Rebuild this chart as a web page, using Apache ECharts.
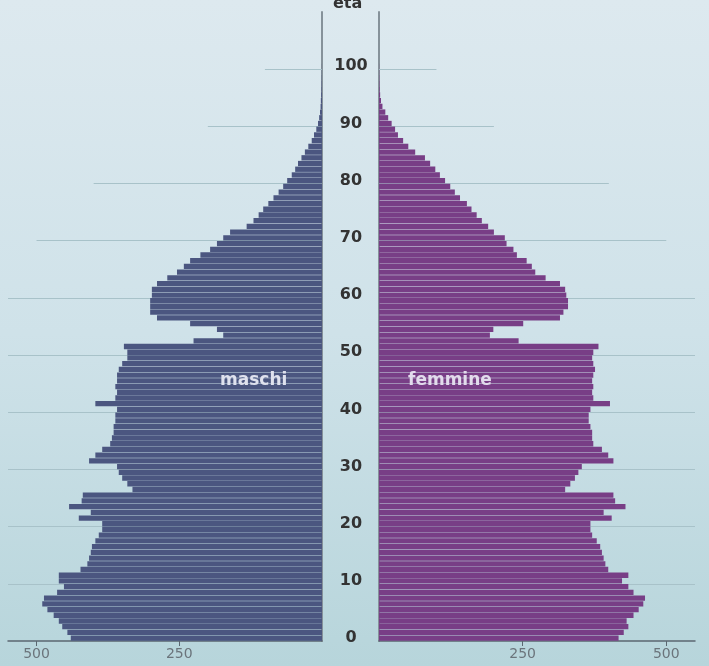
<!DOCTYPE html>
<html><head><meta charset="utf-8">
<script src="https://cdn.jsdelivr.net/npm/echarts@6/dist/echarts.min.js"></script>
<style>html,body{margin:0;padding:0;background:#fff}#c{width:709px;height:666px;}</style>
</head><body><div id="c"></div>
<script>
// Age categories (single years)
const ages = ['0','1','2','3','4','5','6','7','8','9','10','11','12','13','14','15','16','17','18','19',
'20','21','22','23','24','25','26','27','28','29','30','31','32','33','34','35','36','37','38','39',
'40','41','42','43','44','45','46','47','48','49','50','51','52','53','54','55','56','57','58','59',
'60','61','62','63','64','65','66','67','68','69','70','71','72','73','74','75','76','77','78','79',
'80','81','82','83','84','85','86','87','88','89','90','91','92','93','94','95','96','97','98','99',
'100','101','102','103','104','105','106','107','108','109'];

// maschi (males), ages 0..100
const maschi = [440,446,455,461,470,481,490,487,464,452,
461,461,423,411,408,405,403,397,391,385,
385,426,405,443,421,419,332,341,350,356,
359,408,397,385,371,368,365,365,362,362,
359,397,362,359,362,359,359,356,350,341,
341,347,225,173,184,231,289,301,301,301,
298,298,289,271,254,242,231,213,196,184,
173,161,132,120,111,103,94,85,76,68,
61,53,47,42,36,30,24,18,14,10,
7,5,3.5,2.5,2,1.5,1,0.7,0.5,0.3,0.2];

// femmine (females), ages 0..100
const femmine = [417,426,434,431,443,452,460,463,443,434,
423,434,399,394,391,388,385,379,371,368,
368,405,391,429,411,408,324,333,341,347,
353,408,399,388,373,371,371,368,365,365,
368,402,373,371,373,371,373,376,373,371,
373,382,243,193,199,251,315,321,329,329,
326,324,315,290,272,266,257,240,234,222,
219,200,190,179,170,161,153,141,132,124,
115,106,98,89,80,63,51,42,33,28,
22,16,11,6,3.5,2,1.2,0.8,0.5,0.3,0.2];

// age tick labels and guide lines
const ageTickLabels = [0,10,20,30,40,50,60,70,80,90,100];
const guideAges = [10,20,30,40,50,60,70,80,90,100];
const guideLens = [550,550,550,550,550,550,500,400,200,100];
const xTickLabels = [250,500];

const chart = echarts.init(document.getElementById('c'), null, {renderer:'canvas'});

function xAxisCfg(grid, inverse){
  return {
    gridIndex:grid, type:'value', inverse:inverse, min:0, max:550,
    axisLine:{show:true, onZero:false, lineStyle:{color:'#5b6770', width:1.5}},
    axisTick:{show:true, customValues:xTickLabels, length:5, lineStyle:{color:'#5b6770'}},
    axisLabel:{customValues:xTickLabels, color:'#6b747b', fontSize:14, fontFamily:'DejaVu Sans', margin:6},
    splitLine:{show:false}
  };
}
function guideSeries(xi, yi){
  return {
    type:'lines', coordinateSystem:'cartesian2d', xAxisIndex:xi, yAxisIndex:yi,
    data: guideAges.map((a,i)=>({coords:[[0,a],[guideLens[i],a]]})),
    lineStyle:{color:'#a8c2c9', width:1, opacity:1}, z:1, silent:true
  };
}

const option = {
  animation:false,
  backgroundColor:{type:'linear', x:0, y:0, x2:0, y2:1,
    colorStops:[{offset:0,color:'#dde9ef'},{offset:0.5,color:'#cfe2e9'},{offset:1,color:'#b7d5db'}]},
  grid:[
    {left:8, right:387, top:12, bottom:25},
    {left:379, right:14, top:12, bottom:25}
  ],
  xAxis:[xAxisCfg(0,true), xAxisCfg(1,false)],
  yAxis:[
    {gridIndex:0, type:'category', data:ages, position:'right',
     axisLine:{show:true, lineStyle:{color:'#86929a', width:2}}, axisTick:{show:false},
     axisLabel:{show:false}, splitLine:{show:false}},
    {gridIndex:1, type:'category', data:ages, position:'left',
     axisLine:{show:true, lineStyle:{color:'#86929a', width:2}}, axisTick:{show:false},
     axisLabel:{interval:(i,v)=>ageTickLabels.indexOf(Number(v))>=0, align:'center', margin:28,
       color:'#333', fontSize:16, fontWeight:'bold', fontFamily:'DejaVu Sans'},
     splitLine:{show:false}},
    {gridIndex:0, type:'value', min:0, max:110, show:false},
    {gridIndex:1, type:'value', min:0, max:110, show:false}
  ],
  series:[
    guideSeries(0,2),
    guideSeries(1,3),
    {name:'maschi', type:'bar', xAxisIndex:0, yAxisIndex:0, data:maschi,
     barCategoryGap:'7%', itemStyle:{color:'#4b5680'}, z:2},
    {name:'femmine', type:'bar', xAxisIndex:1, yAxisIndex:1, data:femmine,
     barCategoryGap:'7%', itemStyle:{color:'#783e86'}, z:2}
  ],
  graphic:[
    {type:'text', left:220, top:372, z:10, style:{text:'maschi', fill:'#dfe2ee',
      font:'bold 17px "DejaVu Sans"'}},
    {type:'text', left:408, top:372, z:10, style:{text:'femmine', fill:'#e2dcec',
      font:'bold 17px "DejaVu Sans"'}},
    {type:'text', left:333, top:-4, z:10, style:{text:'età', fill:'#333',
      font:'bold 16px "DejaVu Sans"'}}
  ]
};
chart.setOption(option);
</script>
</body></html>
